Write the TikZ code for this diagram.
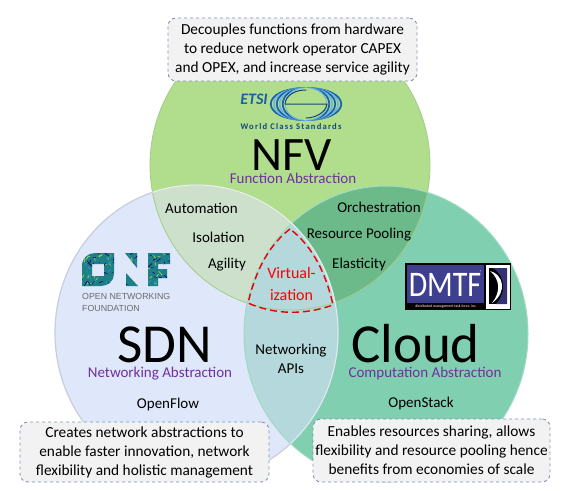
\documentclass[tikz,border=0pt]{standalone}
\usepackage{fontspec}
\usepackage{graphicx}
\setmainfont{Carlito}
\newfontfamily\arialf{Liberation Sans}
\definecolor{nfvc}{HTML}{B0DE8C}
\definecolor{sdnc}{HTML}{DFE7FA}
\definecolor{cloudc}{HTML}{7FCFB0}
\definecolor{sn}{HTML}{CDE0CC}
\definecolor{nc}{HTML}{6CB98A}
\definecolor{scc}{HTML}{B5D8DC}
\definecolor{absc}{HTML}{7030A0}
\definecolor{boxf}{HTML}{F2F2F2}
\definecolor{boxd}{HTML}{7F93B5}
\definecolor{etsib}{HTML}{1F5FA8}
\definecolor{etsil}{HTML}{6BB8DE}
\definecolor{onfg}{HTML}{1E7F86}
\definecolor{dmtfb}{HTML}{3F3F90}
\tikzset{x=1pt,y=-1pt,
 note/.style={draw=boxd,fill=boxf,dashed,line width=.9pt,rounded corners=8pt,align=center,inner sep=0pt,font=\fontsize{15.35}{19}\selectfont},
 item/.style={inner sep=0pt,align=center,font=\fontsize{15}{19}\selectfont,text=black},
 big/.style={inner sep=0pt,anchor=base,font=\fontsize{55}{55}\selectfont},
 abst/.style={inner sep=0pt,text=absc,font=\fontsize{15}{18}\selectfont}}
\def\NF{(290,165) ellipse [x radius=140,y radius=145]}
\def\SD{(196.5,333) ellipse [x radius=141.5,y radius=148]}
\def\CL{(386,334) ellipse [x radius=142,y radius=148]}
\begin{document}
\begin{tikzpicture}
\useasboundingbox (0,0) rectangle (570,490);
\fill[white] (0,0) rectangle (570,490);
\fill[nfvc] \NF; \fill[sdnc] \SD; \fill[cloudc] \CL;
\begin{scope}\clip \NF; \fill[sn] \SD; \fill[nc] \CL; \end{scope}
\begin{scope}\clip \SD; \fill[scc] \CL; \end{scope}
\draw[nfvc!80!gray,line width=.8pt] \NF;
\draw[sdnc!75!gray,line width=1.2pt] \SD;
\draw[cloudc!75!white,line width=1pt] \CL;
\begin{scope}\clip \NF; \draw[white!70!nfvc,line width=1pt] \SD; \end{scope}
\begin{scope}\clip \CL; \draw[white!55!scc,line width=1pt] \SD; \end{scope}
\node[note,minimum width=249pt,minimum height=63pt] (nfvnote) at (292.5,49.5) {Decouples functions from hardware\\to reduce network operator CAPEX\\and OPEX, and increase service agility};
\node[note,minimum width=249pt,minimum height=60pt] (sdnnote) at (144.5,452) {Creates network abstractions to\\enable faster innovation, network\\flexibility and holistic management};
\node[note,minimum width=237pt,minimum height=63pt] (cloudnote) at (431.5,450.5) {Enables resources sharing, allows\\flexibility and resource pooling hence\\benefits from economies of scale};
\node[big,font=\fontsize{48}{48}\selectfont] (nfv) at (291.5,170) {NFV};
\node[big] (sdn) at (165,362) {SDN};
\node[big] (cloud) at (415.5,362) {Cloud};
\node[abst] (fa) at (293,178) {Function Abstraction};
\node[abst] (na) at (160,374) {Networking Abstraction};
\node[abst] (ca) at (425,373) {Computation Abstraction};
\node[item] (i1) at (201.5,208) {Automation};
\node[item] (i2) at (218.5,237) {Isolation};
\node[item] (i3) at (227,265) {Agility};
\node[item] (i4) at (379,207) {Orchestration};
\node[item] (i5) at (359,235) {Resource Pooling};
\node[item] (i6) at (359,264) {Elasticity};
\node[item] (i7) at (291,358.5) {Networking\\APIs};
\node[item] (i8) at (168,404) {OpenFlow};
\node[item] (i9) at (421,403) {OpenStack};
\node[inner sep=0pt,align=center,text=red,font=\fontsize{16}{22}\selectfont] (virt) at (291.5,284) {Virtual-\\ization};
\draw[red!90!black,dash pattern=on 7pt off 4pt,line width=1.4pt] (290,229) .. controls (265,248) and (254,278) .. (248,303) .. controls (275,315) and (305,315) .. (333,305) .. controls (327,278) and (315,248) .. (290,229) -- cycle;
% ETSI logo
\foreach \k/\c in {47/etsib,43/etsil,39/etsib,35/etsil,31/etsib,27/etsil}{
 \draw[\c,line width=1.7pt] (306,88) .. controls (306-\k,88) and (306-\k,120) .. (306,120);
 \draw[\c,line width=1.7pt] (306,88) .. controls (306+\k,88) and (306+\k,120) .. (306,120);}
\fill[nfvc] (306,88) .. controls (306-27,90) and (306-27,118) .. (306,120) .. controls (306+27,118) and (306+27,90) .. (306,88) -- cycle;
\draw[etsib!70!black,line width=1pt,line cap=round] (285,104) .. controls (286,95) and (295,90) .. (306,90);
\draw[etsib!70!black,line width=1pt,line cap=round] (285,104) -- (327,104) .. controls (326,112) and (316,118) .. (306,118);
\node[inner sep=0pt,text=etsib,font=\bfseries\itshape\fontsize{16}{16}\selectfont] (etsi) at (254,99) {ETSI};
\node[inner sep=0pt,text=etsib!75!black,font=\addfontfeature{LetterSpace=14}\bfseries\fontsize{8.6}{9}\selectfont] (wcs) at (291,126.5) {World Class Standards};
% ONF logo
\begin{scope}[even odd rule]
\clip
 (82,266) .. controls (82,258) and (88,253) .. (95,253) -- (114,253) -- (114,274) .. controls (114,281) and (108,286) .. (101,286) -- (82,286) -- cycle
 (92,264) rectangle (104,276)
 (125,253) -- (137,253) -- (137,268) -- cycle
 (126,273) -- (138,286) -- (126,286) -- cycle
 (148,253) -- (170,253) -- (170,264) -- (158,264) -- (158,269) -- (167,269) -- (167,278) -- (158,278) -- (158,286) -- (148,286) -- cycle;
\fill[onfg] (80,250) rectangle (172,288);
\pgfmathsetseed{7}
\foreach \i in {1,...,170}{
 \pgfmathsetmacro{\xa}{80+92*rnd}\pgfmathsetmacro{\ya}{252+35*rnd}
 \pgfmathsetmacro{\dx}{8*rnd-4}\pgfmathsetmacro{\dy}{8*rnd-4}
 \pgfmathsetmacro{\cpick}{int(3*rnd)}
 \ifnum\cpick=0 \def\colr{yellow!60!green!80!white}\else\ifnum\cpick=1 \def\colr{blue!45!black}\else \def\colr{cyan!60!teal}\fi\fi
 \draw[\colr,line width=.6pt] (\xa,\ya) -- ++(\dx,\dy);}
\end{scope}
\node[inner sep=0pt,align=left,text=black!58,anchor=north west,font=\arialf\fontsize{8.8}{12.4}\selectfont] (onf) at (82,293) {OPEN NETWORKING\\FOUNDATION};
% DMTF logo
\fill[black] (405,263) rectangle (511,310);
\fill[dmtfb] (406.5,264.5) rectangle (484,303);
\node[inner sep=0pt,text=white,font=\fontsize{30}{30}\selectfont] (dmtf) at (445,284.5) {\scalebox{1}[1.2]{DMTF}};
\node[inner sep=0pt,text=white,font=\fontsize{4}{4}\selectfont] (reg) at (481,272) {®};
\fill[white] (485.5,264.5) rectangle (509.5,308.5);
\fill[black] (489,268) rectangle (507,304);
\fill[dmtfb!80!black] (493,268) .. controls (505,276) and (507,292) .. (496,304) -- (507,304) -- (507,268) -- cycle;
\fill[white] (490,271) .. controls (503,274) and (508,292) .. (492,303) .. controls (501,292) and (500,279) .. (490,271) -- cycle;
\node[inner sep=0pt,text=white,font=\fontsize{3.8}{4}\selectfont] (dm2) at (446,307) {distributed management task force, inc.};
\end{tikzpicture}
\end{document}
